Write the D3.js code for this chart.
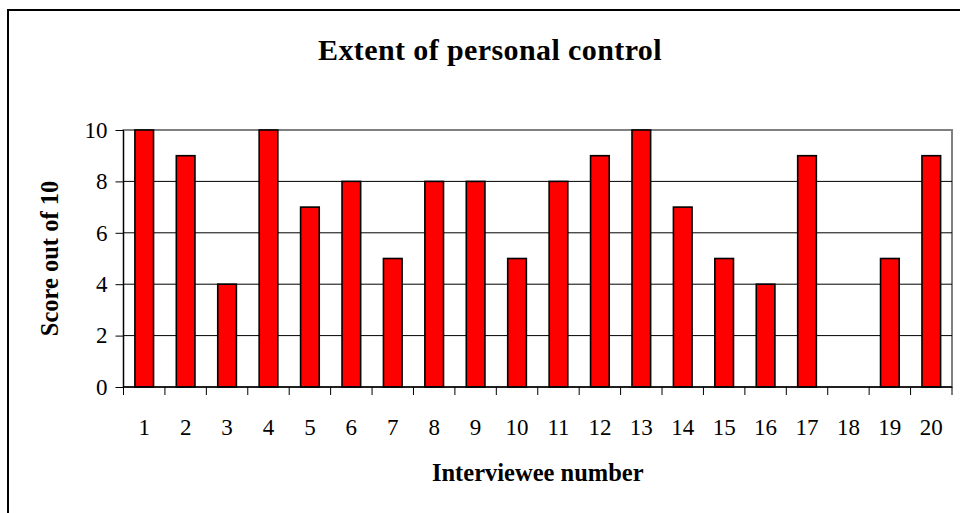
<!DOCTYPE html>
<html>
<head>
<meta charset="utf-8">
<script src="https://cdn.jsdelivr.net/npm/d3@7"></script>
<style>
  body { margin: 0; background: #fff; }
  svg { display: block; font-family: "Liberation Serif", "Times New Roman", serif; }
</style>
</head>
<body>
<div id="chart"></div>
<script>
// data
const interviewees = d3.range(1, 21).map(String);
const scores = [10, 9, 4, 10, 7, 8, 5, 8, 8, 5, 8, 9, 10, 7, 5, 4, 9, 0, 5, 9];
const yTicks = [0, 2, 4, 6, 8, 10];

const W = 960, H = 513;
const margin = { top: 130, right: 8, bottom: 126, left: 123.5 };
const width = W - margin.left - margin.right,
    height = H - margin.top - margin.bottom;

const svg = d3.select("#chart").append("svg")
    .attr("width", W)
    .attr("height", H);

// outer chart border (only top/left fall inside the picture)
svg.append("rect")
    .attr("x", 8).attr("y", 10)
    .attr("width", W + 20).attr("height", H + 20)
    .attr("fill", "none")
    .attr("stroke", "#000")
    .attr("stroke-width", 2);

const g = svg.append("g")
    .attr("transform", `translate(${margin.left},${margin.top})`);

const x = d3.scaleBand()
    .domain(interviewees)
    .range([0, width])
    .paddingInner(0.55)
    .paddingOuter(0.275);

const y = d3.scaleLinear()
    .domain([0, 10])
    .range([height, 0]);

// plot area frame (grey top/right)
g.append("rect")
    .attr("x", 0).attr("y", 0)
    .attr("width", width).attr("height", height)
    .attr("fill", "none")
    .attr("stroke", "#808080")
    .attr("stroke-width", 2);

// gridlines
g.append("g")
    .selectAll("line")
    .data(yTicks.filter(d => d > 0 && d < 10))
    .join("line")
    .attr("x1", 0).attr("x2", width)
    .attr("y1", d => y(d)).attr("y2", d => y(d))
    .attr("stroke", "#000")
    .attr("stroke-width", 1);

// bars
g.append("g")
    .selectAll("rect")
    .data(scores.map((v, i) => ({ k: interviewees[i], v: v })))
    .join("rect")
    .attr("x", d => x(d.k))
    .attr("y", d => y(d.v))
    .attr("width", x.bandwidth())
    .attr("height", d => height - y(d.v))
    .attr("fill", "#ff0000")
    .attr("stroke", "#000")
    .attr("stroke-width", 1.6);

// y axis
const yAxis = g.append("g")
    .call(d3.axisLeft(y).tickValues(yTicks).tickSize(8).tickPadding(8));
yAxis.select(".domain").attr("stroke", "#000").attr("d", `M0,0V${height}`);
yAxis.selectAll("text")
    .style("font-size", "23px")
    .style("font-family", "Liberation Serif, serif")
    .attr("fill", "#000");

// x axis: ticks at category boundaries
const step = x.step();
const xAxisG = g.append("g")
    .attr("transform", `translate(0,${height})`);
xAxisG.append("line")
    .attr("x1", 0).attr("x2", width)
    .attr("stroke", "#000").attr("stroke-width", 1.3);
xAxisG.selectAll(".tick")
    .data(d3.range(interviewees.length + 1))
    .join("line")
    .attr("class", "tick")
    .attr("x1", i => i * step).attr("x2", i => i * step)
    .attr("y1", 0).attr("y2", 8)
    .attr("stroke", "#000");
xAxisG.selectAll(".lbl")
    .data(interviewees)
    .join("text")
    .attr("class", "lbl")
    .attr("x", d => x(d) + x.bandwidth() / 2)
    .attr("y", 48)
    .attr("text-anchor", "middle")
    .style("font-size", "23px")
    .text(d => d);

// titles
svg.append("text")
    .attr("x", 490).attr("y", 60)
    .attr("text-anchor", "middle")
    .style("font-size", "30px")
    .style("font-weight", "bold")
    .style("letter-spacing", "0.4px")
    .text("Extent of personal control");

svg.append("text")
    .attr("x", margin.left + width / 2).attr("y", 481)
    .attr("text-anchor", "middle")
    .style("font-size", "24.5px")
    .style("font-weight", "bold")
    .text("Interviewee number");

svg.append("text")
    .attr("transform", `translate(58,${margin.top + height / 2}) rotate(-90)`)
    .attr("text-anchor", "middle")
    .style("font-size", "24.5px")
    .style("font-weight", "bold")
    .text("Score out of 10");
</script>
</body>
</html>
